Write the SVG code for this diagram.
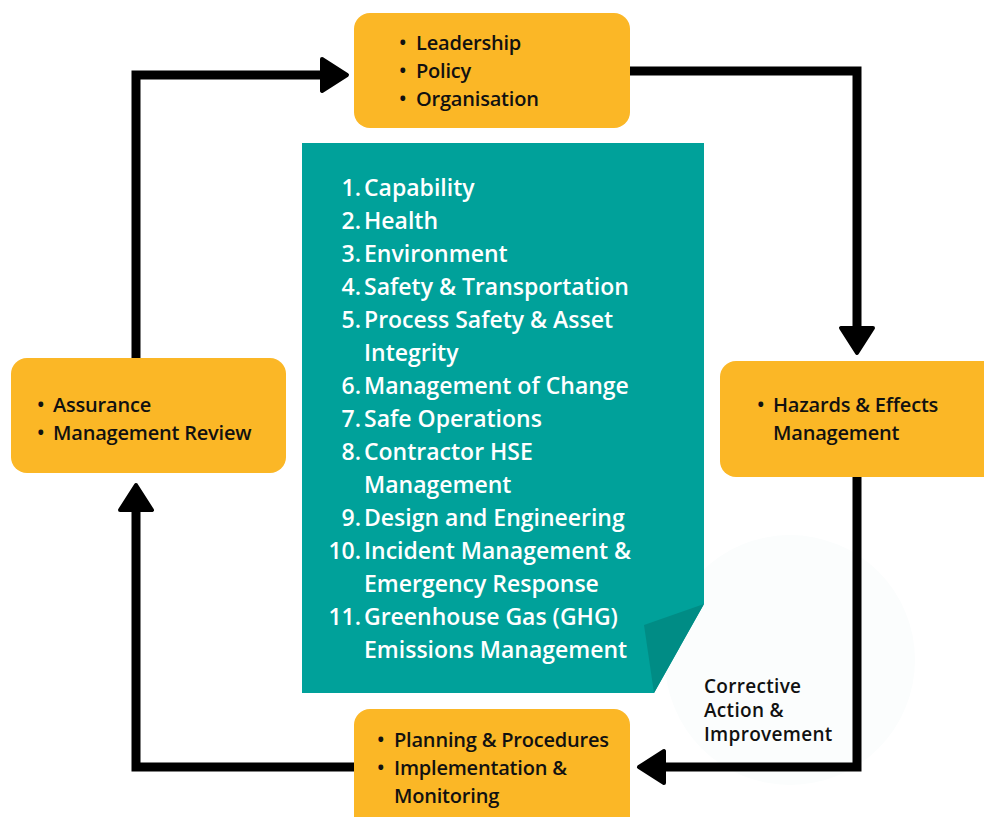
<svg xmlns="http://www.w3.org/2000/svg" width="984" height="817" viewBox="0 0 984 817">
<style>
.box{fill:#FBB726}
.bt{font-family:"Open Sans","Liberation Sans",sans-serif;font-weight:600;font-size:20px;fill:#111;letter-spacing:-0.2px}
.lt{font-family:"Open Sans","Liberation Sans",sans-serif;font-weight:600;font-size:23px;fill:#fff;letter-spacing:0px}
.num{text-anchor:end}
.ct{font-family:"Open Sans","Liberation Sans",sans-serif;font-weight:600;font-size:19px;fill:#111;letter-spacing:0.3px}
.conn{fill:none;stroke:#000;stroke-width:9;stroke-linejoin:miter;stroke-linecap:butt}
</style>
<defs>
<marker id="ah" viewBox="-3 -21 33 42" markerWidth="33" markerHeight="42" refX="0" refY="0" markerUnits="userSpaceOnUse" orient="auto">
<path d="M0,-16 L25,0 L0,16 Z" fill="#000" stroke="#000" stroke-width="4" stroke-linejoin="round"/>
</marker>
</defs>
<rect width="984" height="817" fill="#fff"/>
<circle cx="790" cy="660" r="125" fill="#fbfdfd"/>

<g id="connectors">
<path class="conn" d="M355,767 H136 V510" marker-end="url(#ah)"/>
<path class="conn" d="M136,358 V75 H322" marker-end="url(#ah)"/>
<path class="conn" d="M630,71 H857 V328" marker-end="url(#ah)"/>
<path class="conn" d="M857,477 V767 H664" marker-end="url(#ah)"/>
</g>

<g id="elements-list">
<polygon points="302,143 704,143 704,604 654,693 302,693" fill="#00A19A"/>
<polygon points="704,604 644,625 654,693" fill="#008C85"/>
<text class="lt num" x="361" y="196">1.</text><text class="lt" x="364" y="196">Capability</text>
<text class="lt num" x="361" y="229">2.</text><text class="lt" x="364" y="229">Health</text>
<text class="lt num" x="361" y="262">3.</text><text class="lt" x="364" y="262">Environment</text>
<text class="lt num" x="361" y="295">4.</text><text class="lt" x="364" y="295">Safety &amp; Transportation</text>
<text class="lt num" x="361" y="328">5.</text><text class="lt" x="364" y="328">Process Safety &amp; Asset</text>
<text class="lt" x="364" y="361">Integrity</text>
<text class="lt num" x="361" y="394">6.</text><text class="lt" x="364" y="394">Management of Change</text>
<text class="lt num" x="361" y="427">7.</text><text class="lt" x="364" y="427">Safe Operations</text>
<text class="lt num" x="361" y="460">8.</text><text class="lt" x="364" y="460">Contractor HSE</text>
<text class="lt" x="364" y="493">Management</text>
<text class="lt num" x="361" y="526">9.</text><text class="lt" x="364" y="526">Design and Engineering</text>
<text class="lt num" x="361" y="559">10.</text><text class="lt" x="364" y="559">Incident Management &amp;</text>
<text class="lt" x="364" y="592">Emergency Response</text>
<text class="lt num" x="361" y="625">11.</text><text class="lt" x="364" y="625">Greenhouse Gas (GHG)</text>
<text class="lt" x="364" y="658">Emissions Management</text>
</g>

<g id="node-top">
<rect class="box" x="354" y="13" width="276" height="115" rx="16"/>
<text class="bt" x="399" y="50">•</text><text class="bt" x="416" y="50">Leadership</text>
<text class="bt" x="399" y="78">•</text><text class="bt" x="416" y="78">Policy</text>
<text class="bt" x="399" y="106">•</text><text class="bt" x="416" y="106">Organisation</text>
</g>

<g id="node-right">
<rect class="box" x="720" y="361" width="280" height="116" rx="16"/>
<text class="bt" x="757" y="412">•</text><text class="bt" x="773" y="412">Hazards &amp; Effects</text>
<text class="bt" x="773" y="440">Management</text>
</g>

<g id="node-bottom">
<rect class="box" x="354" y="709" width="276" height="130" rx="16"/>
<text class="bt" x="377" y="747">•</text><text class="bt" x="394" y="747">Planning &amp; Procedures</text>
<text class="bt" x="377" y="775">•</text><text class="bt" x="394" y="775">Implementation &amp;</text>
<text class="bt" x="394" y="803">Monitoring</text>
</g>

<g id="node-left">
<rect class="box" x="11" y="358" width="275" height="115" rx="16"/>
<text class="bt" x="37" y="412">•</text><text class="bt" x="53" y="412">Assurance</text>
<text class="bt" x="37" y="440">•</text><text class="bt" x="53" y="440">Management Review</text>
</g>

<g id="label-corrective">
<text class="ct" x="704" y="693">Corrective</text>
<text class="ct" x="704" y="717">Action &amp;</text>
<text class="ct" x="704" y="741">Improvement</text>
</g>
</svg>
